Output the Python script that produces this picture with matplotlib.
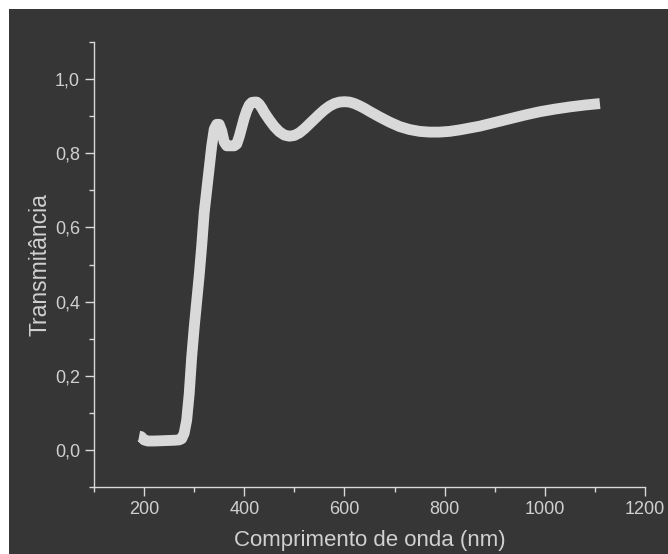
import matplotlib
matplotlib.use("Agg")
import matplotlib.pyplot as plt
from matplotlib.patches import Rectangle
from matplotlib.ticker import MultipleLocator, FuncFormatter

wavelength = [190, 194, 200, 207, 220, 240, 260, 270, 275, 280, 285, 290, 295, 300,
              305, 310, 315, 320, 325, 330, 335, 340, 345, 350, 355, 360, 365, 370,
              380, 385, 390, 395, 400, 405, 410, 415, 420, 425, 430, 435, 440, 450,
              460, 470, 480, 490, 500, 510, 520, 530, 540, 550, 560, 570, 580, 590,
              600, 610, 620, 630, 640, 650, 670, 690, 710, 730, 750, 770, 790, 810,
              830, 850, 870, 900, 930, 960, 990, 1020, 1050, 1080, 1110]
transmittance = [0.037, 0.036, 0.027, 0.024, 0.024, 0.025, 0.026, 0.027, 0.030, 0.045,
                 0.080, 0.150, 0.250, 0.330, 0.400, 0.470, 0.550, 0.640, 0.700, 0.760,
                 0.820, 0.865, 0.878, 0.878, 0.860, 0.830, 0.820, 0.820, 0.820, 0.825,
                 0.845, 0.870, 0.895, 0.915, 0.930, 0.937, 0.938, 0.938, 0.932, 0.922,
                 0.910, 0.890, 0.872, 0.858, 0.849, 0.846, 0.848, 0.855, 0.866, 0.879,
                 0.892, 0.905, 0.917, 0.927, 0.934, 0.938, 0.939, 0.938, 0.934, 0.928,
                 0.921, 0.913, 0.898, 0.884, 0.872, 0.864, 0.859, 0.857, 0.857, 0.859,
                 0.863, 0.868, 0.873, 0.883, 0.893, 0.903, 0.912, 0.919, 0.925, 0.930,
                 0.934]

x_label = "Comprimento de onda (nm)"
y_label = "Transmitância"

bg = "#363636"
fg = "#d9d9d9"
txt = "#d0d0d0"

plt.rcParams['font.family'] = ['Liberation Sans', 'DejaVu Sans']

fig = plt.figure(figsize=(6.68, 5.54), dpi=100)
fig.patch.set_facecolor("white")
fig.patches.append(Rectangle((9 / 668, 0), 1, 1 - 9 / 554, transform=fig.transFigure,
                             facecolor=bg, edgecolor="none", zorder=-10))

ax = fig.add_axes([94 / 668, 1 - 487 / 554, (645 - 94) / 668, (487 - 42) / 554])
ax.set_facecolor(bg)
ax.plot(wavelength, transmittance, color=fg, lw=7.8, solid_capstyle="butt",
        solid_joinstyle="round")

ax.set_xlim(100, 1200)
ax.set_ylim(-0.1, 1.1)
ax.xaxis.set_major_locator(MultipleLocator(200))
ax.xaxis.set_minor_locator(MultipleLocator(100))
ax.yaxis.set_major_locator(MultipleLocator(0.2))
ax.yaxis.set_minor_locator(MultipleLocator(0.1))
ax.yaxis.set_major_formatter(FuncFormatter(lambda v, p: f"{v:.1f}".replace(".", ",").replace("-0,0", "0,0")))

for s in ["top", "right"]:
    ax.spines[s].set_visible(False)
for s in ["left", "bottom"]:
    ax.spines[s].set_color(fg)
    ax.spines[s].set_linewidth(1.0)

ax.tick_params(which="major", length=6.5, width=1, color=fg, labelcolor=txt,
               labelsize=13, direction="out", pad=3.5)
ax.tick_params(which="minor", length=3.5, width=1, color=fg, direction="out")

ax.set_xlabel(x_label, color=txt, fontsize=16)
ax.set_ylabel(y_label, color=txt, fontsize=16.5)
ax.xaxis.set_label_coords(0.5, -0.097)
ax.yaxis.set_label_coords(-0.078, 0.5)

fig.savefig("out.png", dpi=100, facecolor=fig.get_facecolor())
